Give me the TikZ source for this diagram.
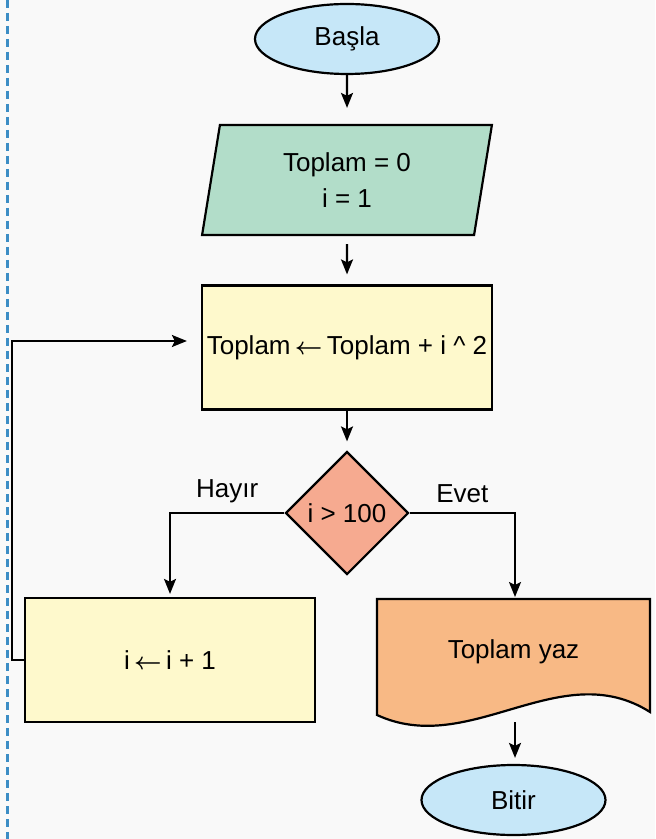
\documentclass[tikz,border=0pt]{standalone}
\usepackage{amsmath}
\usepackage{fontspec}
\setmainfont{Liberation Sans}
\usetikzlibrary{arrows.meta}
\usetikzlibrary{shapes.geometric}
\usetikzlibrary{positioning}

\definecolor{bgcol}{HTML}{F9F9F9}
\definecolor{edgecol}{HTML}{3C8DC5}
\definecolor{termcol}{HTML}{C6E7F8}
\definecolor{iocol}{HTML}{B2DDC9}
\definecolor{proccol}{HTML}{FEF9CC}
\definecolor{deccol}{HTML}{F6AA90}
\definecolor{doccol}{HTML}{F8B985}

\newcommand{\getsarrow}{\,$\boldsymbol{\leftarrow}$\,}

\begin{document}
\begin{tikzpicture}[
    x=0.5pt, y=-0.5pt,
    every node/.style={font=\fontsize{13}{18}\selectfont},
    terminal/.style={ellipse, draw, line width=1.1pt, fill=termcol, minimum width=92pt, minimum height=35pt, inner sep=0pt},
    inbox/.style={trapezium, trapezium left angle=80.7, trapezium right angle=99.3, trapezium stretches=true, draw, line width=1.1pt, fill=iocol, minimum width=145pt, minimum height=55pt, align=center, inner sep=0pt},
    procbox/.style={rectangle, draw, line width=1.1pt, fill=proccol, minimum width=145pt, minimum height=62pt, inner sep=0pt},
    decision/.style={diamond, draw, line width=1.1pt, fill=deccol, minimum width=61.5pt, minimum height=61.5pt, inner sep=0pt},
    arr/.style={line width=1.1pt, -{Stealth[length=7.5pt, width=6pt, inset=1.5pt]}},
    >=stealth
]

% --- Background and left margin ---
\useasboundingbox (0,0) rectangle (655,839);
\fill[bgcol] (0,0) rectangle (655,839);
\draw[edgecol, line width=1.5pt, dash pattern=on 4pt off 2.5pt] (7,0) -- (7,839);

% --- Start ---
\node[terminal] (start) at (347,39) {Başla};

% --- Initial values ---
\node[inbox] (init) at (347,180) {Toplam = 0\\i = 1};

% --- Sum step ---
\node[procbox] (sum) at (347,347.5) {Toplam\getsarrow Toplam + i \^{} 2};

% --- Condition ---
\node[decision] (cond) at (347,513) {i > 100};

% --- Increment ---
\node[procbox] (inc) at (170,660) {i\getsarrow i + 1};

% --- Output (document shape) ---
\filldraw[fill=doccol, line width=1.1pt] (377,599) -- (650,599) -- (650,712)
    .. controls (560,655) and (470,758) .. (377,715) -- cycle;
\node (out) at (513.5,652) {Toplam yaz};
\coordinate (outtop) at (515,599);
\coordinate (outbot) at (515,722);

% --- End ---
\node[terminal] (stop) at (513.5,800) {Bitir};

% --- Connectors ---
\draw[arr, shorten >=8pt] (start.south) -- (init.north);
\draw[arr, shorten <=4pt, shorten >=5pt] (init.south) -- (sum.north);
\draw[arr, shorten >=4.5pt] (sum.south) -- (cond.north);
\draw[arr, shorten >=1.5pt] (cond.west) -| node[pos=0.25, above=1pt] {Hayır} (inc.north);
\draw[arr, shorten >=1pt] (cond.east) -| node[pos=0.25, above=1pt] {Evet} (outtop);
\draw[arr, shorten >=3pt] (outbot) -- (outbot |- stop.north);

% --- Loop back ---
\draw[arr, shorten >=7pt] (inc.west) -- ++(-12,0) |- ([yshift=3.25pt]sum.west);

\end{tikzpicture}
\end{document}
